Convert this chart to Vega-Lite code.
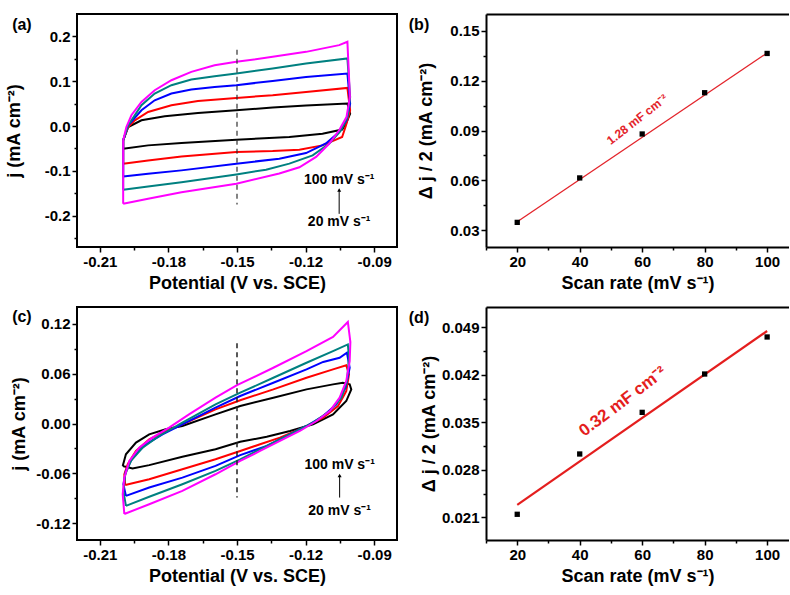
{
"$schema": "https://vega.github.io/schema/vega-lite/v6.json",
"background": "white",
"padding": {"left": 4, "top": 13, "right": 0, "bottom": 2},
"bounds": "flush",
"columns": 2,
"spacing": {"row": 60, "column": 89},
"datasets": {
"cva": [
{"s":"20","i":0,"x":-0.1998,"y":-0.0506},{"s":"20","i":1,"x":-0.1998,"y":-0.032},{"s":"20","i":2,"x":-0.1976,"y":-0.0022},{"s":"20","i":3,"x":-0.1918,"y":0.0127},{"s":"20","i":4,"x":-0.1816,"y":0.0217},{"s":"20","i":5,"x":-0.1671,"y":0.0291},{"s":"20","i":6,"x":-0.1503,"y":0.0351},{"s":"20","i":7,"x":-0.1344,"y":0.0412},{"s":"20","i":8,"x":-0.1198,"y":0.0456},{"s":"20","i":9,"x":-0.1017,"y":0.0501},{"s":"20","i":10,"x":-0.1005,"y":0.0277},{"s":"20","i":11,"x":-0.1023,"y":0.0054},{"s":"20","i":12,"x":-0.104,"y":-0.008},{"s":"20","i":13,"x":-0.1126,"y":-0.017},{"s":"20","i":14,"x":-0.1271,"y":-0.0246},{"s":"20","i":15,"x":-0.1503,"y":-0.0305},{"s":"20","i":16,"x":-0.1743,"y":-0.038},{"s":"20","i":17,"x":-0.1889,"y":-0.0432},{"s":"20","i":18,"x":-0.1998,"y":-0.0506},
{"s":"40","i":0,"x":-0.1998,"y":-0.084},{"s":"40","i":1,"x":-0.1998,"y":-0.032},{"s":"40","i":2,"x":-0.1976,"y":-0.0022},{"s":"40","i":3,"x":-0.1947,"y":0.0127},{"s":"40","i":4,"x":-0.1889,"y":0.0313},{"s":"40","i":5,"x":-0.1787,"y":0.0463},{"s":"40","i":6,"x":-0.1671,"y":0.056},{"s":"40","i":7,"x":-0.1503,"y":0.0627},{"s":"40","i":8,"x":-0.1344,"y":0.0687},{"s":"40","i":9,"x":-0.1198,"y":0.0761},{"s":"40","i":10,"x":-0.1017,"y":0.085},{"s":"40","i":11,"x":-0.1005,"y":0.0351},{"s":"40","i":12,"x":-0.1023,"y":0.0016},{"s":"40","i":13,"x":-0.104,"y":-0.0246},{"s":"40","i":14,"x":-0.1126,"y":-0.0432},{"s":"40","i":15,"x":-0.1227,"y":-0.0528},{"s":"40","i":16,"x":-0.1344,"y":-0.0559},{"s":"40","i":17,"x":-0.1503,"y":-0.0581},{"s":"40","i":18,"x":-0.1743,"y":-0.0678},{"s":"40","i":19,"x":-0.1889,"y":-0.0767},{"s":"40","i":20,"x":-0.1998,"y":-0.084},
{"s":"60","i":0,"x":-0.1998,"y":-0.1125},{"s":"60","i":1,"x":-0.1998,"y":-0.032},{"s":"60","i":2,"x":-0.1976,"y":0.0016},{"s":"60","i":3,"x":-0.1918,"y":0.0351},{"s":"60","i":4,"x":-0.186,"y":0.0575},{"s":"60","i":5,"x":-0.1787,"y":0.0725},{"s":"60","i":6,"x":-0.17,"y":0.0814},{"s":"60","i":7,"x":-0.1598,"y":0.0873},{"s":"60","i":8,"x":-0.1503,"y":0.0911},{"s":"60","i":9,"x":-0.1344,"y":0.1007},{"s":"60","i":10,"x":-0.1198,"y":0.1096},{"s":"60","i":11,"x":-0.1017,"y":0.1172},{"s":"60","i":12,"x":-0.1005,"y":0.05},{"s":"60","i":13,"x":-0.1021,"y":0.0128},{"s":"60","i":14,"x":-0.1053,"y":-0.0134},{"s":"60","i":15,"x":-0.1111,"y":-0.039},{"s":"60","i":16,"x":-0.1198,"y":-0.0604},{"s":"60","i":17,"x":-0.1315,"y":-0.073},{"s":"60","i":18,"x":-0.1503,"y":-0.084},{"s":"60","i":19,"x":-0.1743,"y":-0.099},{"s":"60","i":20,"x":-0.1889,"y":-0.1065},{"s":"60","i":21,"x":-0.1998,"y":-0.1125},
{"s":"80","i":0,"x":-0.1998,"y":-0.1423},{"s":"80","i":1,"x":-0.1998,"y":-0.032},{"s":"80","i":2,"x":-0.1976,"y":0.0016},{"s":"80","i":3,"x":-0.1918,"y":0.0463},{"s":"80","i":4,"x":-0.186,"y":0.0725},{"s":"80","i":5,"x":-0.1787,"y":0.0911},{"s":"80","i":6,"x":-0.17,"y":0.1038},{"s":"80","i":7,"x":-0.1598,"y":0.1112},{"s":"80","i":8,"x":-0.1503,"y":0.1172},{"s":"80","i":9,"x":-0.1344,"y":0.1284},{"s":"80","i":10,"x":-0.1198,"y":0.1396},{"s":"80","i":11,"x":-0.1017,"y":0.1508},{"s":"80","i":12,"x":-0.1005,"y":0.065},{"s":"80","i":13,"x":-0.1017,"y":0.02},{"s":"80","i":14,"x":-0.1045,"y":-0.0096},{"s":"80","i":15,"x":-0.1096,"y":-0.039},{"s":"80","i":16,"x":-0.1169,"y":-0.0655},{"s":"80","i":17,"x":-0.1271,"y":-0.084},{"s":"80","i":18,"x":-0.1373,"y":-0.0975},{"s":"80","i":19,"x":-0.1503,"y":-0.108},{"s":"80","i":20,"x":-0.1743,"y":-0.1253},{"s":"80","i":21,"x":-0.1889,"y":-0.135},{"s":"80","i":22,"x":-0.1998,"y":-0.1423},
{"s":"100","i":0,"x":-0.1998,"y":-0.1736},{"s":"100","i":1,"x":-0.1998,"y":-0.032},{"s":"100","i":2,"x":-0.1984,"y":-0.0022},{"s":"100","i":3,"x":-0.1962,"y":0.024},{"s":"100","i":4,"x":-0.1918,"y":0.0537},{"s":"100","i":5,"x":-0.186,"y":0.0799},{"s":"100","i":6,"x":-0.1787,"y":0.1022},{"s":"100","i":7,"x":-0.17,"y":0.1208},{"s":"100","i":8,"x":-0.1598,"y":0.1358},{"s":"100","i":9,"x":-0.1503,"y":0.1432},{"s":"100","i":10,"x":-0.1344,"y":0.1544},{"s":"100","i":11,"x":-0.1198,"y":0.1655},{"s":"100","i":12,"x":-0.1053,"y":0.1805},{"s":"100","i":13,"x":-0.1017,"y":0.1879},{"s":"100","i":14,"x":-0.1006,"y":0.065},{"s":"100","i":15,"x":-0.1021,"y":0.02},{"s":"100","i":16,"x":-0.1053,"y":-0.0096},{"s":"100","i":17,"x":-0.1096,"y":-0.039},{"s":"100","i":18,"x":-0.1154,"y":-0.069},{"s":"100","i":19,"x":-0.1227,"y":-0.092},{"s":"100","i":20,"x":-0.1315,"y":-0.106},{"s":"100","i":21,"x":-0.1503,"y":-0.1289},{"s":"100","i":22,"x":-0.1743,"y":-0.1477},{"s":"100","i":23,"x":-0.1889,"y":-0.1624},{"s":"100","i":24,"x":-0.1998,"y":-0.1736}
],
"cvc": [
{"s":"20","i":0,"x":-0.2,"y":-0.051},{"s":"20","i":1,"x":-0.1986,"y":-0.037},{"s":"20","i":2,"x":-0.1942,"y":-0.023},{"s":"20","i":3,"x":-0.1884,"y":-0.013},{"s":"20","i":4,"x":-0.1812,"y":-0.007},{"s":"20","i":5,"x":-0.1739,"y":-0.003},{"s":"20","i":6,"x":-0.1594,"y":0.011},{"s":"20","i":7,"x":-0.1486,"y":0.021},{"s":"20","i":8,"x":-0.1341,"y":0.031},{"s":"20","i":9,"x":-0.1196,"y":0.041},{"s":"20","i":10,"x":-0.108,"y":0.047},{"s":"20","i":11,"x":-0.1037,"y":0.049},{"s":"20","i":12,"x":-0.1007,"y":0.047},{"s":"20","i":13,"x":-0.1,"y":0.041},{"s":"20","i":14,"x":-0.1022,"y":0.027},{"s":"20","i":15,"x":-0.108,"y":0.011},{"s":"20","i":16,"x":-0.1167,"y":-0.001},{"s":"20","i":17,"x":-0.1268,"y":-0.009},{"s":"20","i":18,"x":-0.137,"y":-0.016},{"s":"20","i":19,"x":-0.1486,"y":-0.022},{"s":"20","i":20,"x":-0.1594,"y":-0.031},{"s":"20","i":21,"x":-0.1739,"y":-0.04},{"s":"20","i":22,"x":-0.1884,"y":-0.05},{"s":"20","i":23,"x":-0.1957,"y":-0.054},{"s":"20","i":24,"x":-0.2,"y":-0.051},
{"s":"40","i":0,"x":-0.1989,"y":-0.074},{"s":"40","i":1,"x":-0.1993,"y":-0.061},{"s":"40","i":2,"x":-0.1978,"y":-0.049},{"s":"40","i":3,"x":-0.1942,"y":-0.033},{"s":"40","i":4,"x":-0.1884,"y":-0.019},{"s":"40","i":5,"x":-0.1812,"y":-0.009},{"s":"40","i":6,"x":-0.1739,"y":-0.001},{"s":"40","i":7,"x":-0.1594,"y":0.017},{"s":"40","i":8,"x":-0.1486,"y":0.028},{"s":"40","i":9,"x":-0.1341,"y":0.041},{"s":"40","i":10,"x":-0.1196,"y":0.055},{"s":"40","i":11,"x":-0.108,"y":0.065},{"s":"40","i":12,"x":-0.1022,"y":0.07},{"s":"40","i":13,"x":-0.101,"y":0.059},{"s":"40","i":14,"x":-0.1022,"y":0.039},{"s":"40","i":15,"x":-0.1058,"y":0.021},{"s":"40","i":16,"x":-0.1123,"y":0.007},{"s":"40","i":17,"x":-0.121,"y":-0.005},{"s":"40","i":18,"x":-0.1312,"y":-0.017},{"s":"40","i":19,"x":-0.1399,"y":-0.025},{"s":"40","i":20,"x":-0.1486,"y":-0.033},{"s":"40","i":21,"x":-0.1594,"y":-0.043},{"s":"40","i":22,"x":-0.1739,"y":-0.055},{"s":"40","i":23,"x":-0.1884,"y":-0.067},{"s":"40","i":24,"x":-0.1989,"y":-0.074},
{"s":"60","i":0,"x":-0.1986,"y":-0.087},{"s":"60","i":1,"x":-0.1997,"y":-0.073},{"s":"60","i":2,"x":-0.1986,"y":-0.057},{"s":"60","i":3,"x":-0.1957,"y":-0.041},{"s":"60","i":4,"x":-0.1899,"y":-0.025},{"s":"60","i":5,"x":-0.1826,"y":-0.013},{"s":"60","i":6,"x":-0.1739,"y":-0.001},{"s":"60","i":7,"x":-0.1594,"y":0.019},{"s":"60","i":8,"x":-0.1486,"y":0.033},{"s":"60","i":9,"x":-0.1341,"y":0.049},{"s":"60","i":10,"x":-0.1196,"y":0.065},{"s":"60","i":11,"x":-0.1123,"y":0.074},{"s":"60","i":12,"x":-0.1051,"y":0.079},{"s":"60","i":13,"x":-0.1019,"y":0.085},{"s":"60","i":14,"x":-0.1007,"y":0.067},{"s":"60","i":15,"x":-0.1025,"y":0.043},{"s":"60","i":16,"x":-0.1065,"y":0.023},{"s":"60","i":17,"x":-0.1123,"y":0.009},{"s":"60","i":18,"x":-0.1196,"y":-0.003},{"s":"60","i":19,"x":-0.1283,"y":-0.015},{"s":"60","i":20,"x":-0.137,"y":-0.027},{"s":"60","i":21,"x":-0.1486,"y":-0.038},{"s":"60","i":22,"x":-0.1594,"y":-0.051},{"s":"60","i":23,"x":-0.1739,"y":-0.065},{"s":"60","i":24,"x":-0.1884,"y":-0.077},{"s":"60","i":25,"x":-0.1986,"y":-0.087},
{"s":"80","i":0,"x":-0.1986,"y":-0.099},{"s":"80","i":1,"x":-0.1997,"y":-0.081},{"s":"80","i":2,"x":-0.1989,"y":-0.061},{"s":"80","i":3,"x":-0.1964,"y":-0.045},{"s":"80","i":4,"x":-0.1913,"y":-0.029},{"s":"80","i":5,"x":-0.1841,"y":-0.015},{"s":"80","i":6,"x":-0.1739,"y":0.001},{"s":"80","i":7,"x":-0.1594,"y":0.023},{"s":"80","i":8,"x":-0.1486,"y":0.037},{"s":"80","i":9,"x":-0.1341,"y":0.055},{"s":"80","i":10,"x":-0.1196,"y":0.073},{"s":"80","i":11,"x":-0.108,"y":0.087},{"s":"80","i":12,"x":-0.1015,"y":0.095},{"s":"80","i":13,"x":-0.101,"y":0.079},{"s":"80","i":14,"x":-0.1019,"y":0.051},{"s":"80","i":15,"x":-0.1043,"y":0.031},{"s":"80","i":16,"x":-0.1094,"y":0.015},{"s":"80","i":17,"x":-0.1167,"y":0.001},{"s":"80","i":18,"x":-0.1254,"y":-0.011},{"s":"80","i":19,"x":-0.1341,"y":-0.023},{"s":"80","i":20,"x":-0.1428,"y":-0.035},{"s":"80","i":21,"x":-0.1486,"y":-0.043},{"s":"80","i":22,"x":-0.1594,"y":-0.057},{"s":"80","i":23,"x":-0.1739,"y":-0.073},{"s":"80","i":24,"x":-0.1884,"y":-0.088},{"s":"80","i":25,"x":-0.1986,"y":-0.099},
{"s":"100","i":0,"x":-0.1993,"y":-0.1088},{"s":"100","i":1,"x":-0.2,"y":-0.085},{"s":"100","i":2,"x":-0.1993,"y":-0.065},{"s":"100","i":3,"x":-0.1971,"y":-0.045},{"s":"100","i":4,"x":-0.1928,"y":-0.029},{"s":"100","i":5,"x":-0.187,"y":-0.017},{"s":"100","i":6,"x":-0.1797,"y":-0.005},{"s":"100","i":7,"x":-0.171,"y":0.011},{"s":"100","i":8,"x":-0.1594,"y":0.031},{"s":"100","i":9,"x":-0.15,"y":0.046},{"s":"100","i":10,"x":-0.1341,"y":0.067},{"s":"100","i":11,"x":-0.1196,"y":0.087},{"s":"100","i":12,"x":-0.108,"y":0.104},{"s":"100","i":13,"x":-0.1015,"y":0.122},{"s":"100","i":14,"x":-0.1004,"y":0.098},{"s":"100","i":15,"x":-0.1007,"y":0.075},{"s":"100","i":16,"x":-0.1022,"y":0.051},{"s":"100","i":17,"x":-0.1051,"y":0.031},{"s":"100","i":18,"x":-0.1094,"y":0.015},{"s":"100","i":19,"x":-0.1152,"y":0.003},{"s":"100","i":20,"x":-0.1225,"y":-0.009},{"s":"100","i":21,"x":-0.1312,"y":-0.021},{"s":"100","i":22,"x":-0.1399,"y":-0.033},{"s":"100","i":23,"x":-0.1486,"y":-0.045},{"s":"100","i":24,"x":-0.1594,"y":-0.061},{"s":"100","i":25,"x":-0.1739,"y":-0.081},{"s":"100","i":26,"x":-0.1884,"y":-0.097},{"s":"100","i":27,"x":-0.1993,"y":-0.1088}
],
"bpts": [{"r":20,"v":0.0348},{"r":40,"v":0.0615},{"r":60,"v":0.0879},{"r":80,"v":0.1127},{"r":100,"v":0.1363}],
"bfit": [{"r":20,"f":0.0352},{"r":100,"f":0.1366}],
"dpts": [{"r":20,"v":0.02144},{"r":40,"v":0.03033},{"r":60,"v":0.03647},{"r":80,"v":0.04212},{"r":100,"v":0.04758}],
"dfit": [{"r":20,"f":0.02282},{"r":100,"f":0.04846}]
},
"concat": [
{
"width": 320, "height": 233,
"layer": [
{"data": {"name": "cva"}, "mark": {"type": "line", "strokeWidth": 2},
 "encoding": {
  "x": {"field": "x", "type": "quantitative", "scale": {"domain": [-0.22, -0.08], "nice": false, "zero": false}, "axis": {"values": [-0.21, -0.18, -0.15, -0.12, -0.09], "format": ".2f", "title": "Potential (V vs. SCE)", "titlePadding": 5}},
  "y": {"field": "y", "type": "quantitative", "scale": {"domain": [-0.27, 0.25], "nice": false, "zero": false}, "axis": {"values": [-0.2, -0.1, 0, 0.1, 0.2], "format": ".1f", "title": "j (mA  cm⁻²)", "titlePadding": 21}},
  "color": {"field": "s", "type": "nominal", "scale": {"domain": ["20", "40", "60", "80", "100"], "range": ["#000000", "#ff0000", "#0000ff", "#008080", "#ff00ff"]}, "legend": null},
  "order": {"field": "i", "type": "quantitative"}
 }},
{"data": {"values": [{"x": -0.15, "y": 0.17, "y2": -0.175}]}, "mark": {"type": "rule", "strokeDash": [5, 4], "strokeWidth": 1.2, "color": "#333333"},
 "encoding": {
  "x": {"field": "x", "type": "quantitative", "axis": {"orient": "bottom", "values": [-0.195, -0.165, -0.135, -0.105], "labels": false, "title": null, "tickSize": 3}},
  "y": {"field": "y", "type": "quantitative", "axis": {"orient": "left", "values": [-0.25, -0.15, -0.05, 0.05, 0.15], "labels": false, "title": null, "tickSize": 3}},
  "y2": {"field": "y2"}
 }},
{"data": {"values": [{"x": -0.1053, "y": -0.121, "t": "100 mV s⁻¹"}, {"x": -0.1053, "y": -0.214, "t": "20 mV s⁻¹"}]}, "mark": {"type": "text", "fontSize": 14, "fontWeight": "bold", "color": "black"},
 "encoding": {"x": {"field": "x", "type": "quantitative", "axis": null}, "y": {"field": "y", "type": "quantitative", "axis": null}, "text": {"field": "t"}}},
{"data": {"values": [{"x": -0.2441, "y": 0.2255, "t": "(a)"}]}, "mark": {"type": "text", "fontSize": 16, "fontWeight": "bold", "color": "black"},
 "encoding": {"x": {"field": "x", "type": "quantitative", "axis": null}, "y": {"field": "y", "type": "quantitative", "axis": null}, "text": {"field": "t"}}},
{"data": {"values": [{"x": -0.1053, "y": -0.196, "y2": -0.142}]}, "mark": {"type": "rule", "strokeWidth": 1, "color": "black"},
 "encoding": {"x": {"field": "x", "type": "quantitative", "axis": null}, "y": {"field": "y", "type": "quantitative", "axis": null}, "y2": {"field": "y2"}}},
{"data": {"values": [{"x": -0.1053, "y": -0.143}]}, "mark": {"type": "point", "shape": "triangle-up", "filled": true, "size": 16, "color": "black", "opacity": 1},
 "encoding": {"x": {"field": "x", "type": "quantitative", "axis": null}, "y": {"field": "y", "type": "quantitative", "axis": null}}}
],
"resolve": {"axis": {"x": "independent", "y": "independent"}}
},
{
"width": 303, "height": 233,
"view": {"stroke": null},
"layer": [
{"data": {"name": "bfit"}, "mark": {"type": "line", "color": "#e3242b", "strokeWidth": 1.3},
 "encoding": {
  "x": {"field": "r", "type": "quantitative", "scale": {"domain": [10, 107], "nice": false, "zero": false}, "axis": {"values": [20, 40, 60, 80, 100], "title": "Scan rate  (mV s⁻¹)", "titlePadding": 5, "domain": true, "domainWidth": 2, "domainColor": "black"}},
  "y": {"field": "f", "type": "quantitative", "scale": {"domain": [0.02, 0.16], "nice": false, "zero": false}, "axis": {"values": [0.03, 0.06, 0.09, 0.12, 0.15], "format": ".2f", "title": "Δ j / 2 (mA  cm⁻²)", "titlePadding": 14, "domain": true, "domainWidth": 2, "domainColor": "black"}}
 }},
{"data": {"name": "bpts"}, "mark": {"type": "point", "shape": "square", "filled": true, "size": 28, "color": "black", "opacity": 1},
 "encoding": {
  "x": {"field": "r", "type": "quantitative", "axis": {"orient": "bottom", "values": [10, 30, 50, 70, 90], "labels": false, "title": null, "tickSize": 3}},
  "y": {"field": "v", "type": "quantitative", "axis": {"orient": "left", "values": [0.045, 0.075, 0.105, 0.135], "labels": false, "title": null, "tickSize": 3}}
 }},
{"data": {"values": [{"r": 58.4, "v": 0.0966, "t": "1.28 mF cm⁻²"}]}, "mark": {"type": "text", "angle": 322, "fontSize": 12, "fontWeight": "bold", "color": "#e3242b"},
 "encoding": {"x": {"field": "r", "type": "quantitative", "axis": {"orient": "top", "labels": false, "ticks": false, "title": null, "domain": true, "domainWidth": 2, "domainColor": "black"}}, "y": {"field": "v", "type": "quantitative", "axis": null}, "text": {"field": "t"}}},
{"data": {"values": [{"r": -11.45, "v": 0.1534, "t": "(b)"}]}, "mark": {"type": "text", "fontSize": 16, "fontWeight": "bold", "color": "black"},
 "encoding": {"x": {"field": "r", "type": "quantitative", "axis": null}, "y": {"field": "v", "type": "quantitative", "axis": null}, "text": {"field": "t"}}}
],
"resolve": {"axis": {"x": "independent", "y": "independent"}}
},
{
"width": 320, "height": 233,
"layer": [
{"data": {"name": "cvc"}, "mark": {"type": "line", "strokeWidth": 2},
 "encoding": {
  "x": {"field": "x", "type": "quantitative", "scale": {"domain": [-0.22, -0.08], "nice": false, "zero": false}, "axis": {"values": [-0.21, -0.18, -0.15, -0.12, -0.09], "format": ".2f", "title": "Potential (V vs. SCE)", "titlePadding": 5}},
  "y": {"field": "y", "type": "quantitative", "scale": {"domain": [-0.14, 0.14], "nice": false, "zero": false}, "axis": {"values": [-0.12, -0.06, 0, 0.06, 0.12], "format": ".2f", "title": "j (mA  cm⁻²)", "titlePadding": 7}},
  "color": {"field": "s", "type": "nominal", "scale": {"domain": ["20", "40", "60", "80", "100"], "range": ["#000000", "#ff0000", "#0000ff", "#008080", "#ff00ff"]}, "legend": null},
  "order": {"field": "i", "type": "quantitative"}
 }},
{"data": {"values": [{"x": -0.15, "y": 0.0965, "y2": -0.089}]}, "mark": {"type": "rule", "strokeDash": [5, 4], "strokeWidth": 1.5, "color": "#222222"},
 "encoding": {
  "x": {"field": "x", "type": "quantitative", "axis": {"orient": "bottom", "values": [-0.195, -0.165, -0.135, -0.105], "labels": false, "title": null, "tickSize": 3}},
  "y": {"field": "y", "type": "quantitative", "axis": {"orient": "left", "values": [-0.09, -0.03, 0.03, 0.09], "labels": false, "title": null, "tickSize": 3}},
  "y2": {"field": "y2"}
 }},
{"data": {"values": [{"x": -0.1051, "y": -0.05, "t": "100 mV s⁻¹"}, {"x": -0.1051, "y": -0.1057, "t": "20 mV s⁻¹"}]}, "mark": {"type": "text", "fontSize": 14, "fontWeight": "bold", "color": "black"},
 "encoding": {"x": {"field": "x", "type": "quantitative", "axis": null}, "y": {"field": "y", "type": "quantitative", "axis": null}, "text": {"field": "t"}}},
{"data": {"values": [{"x": -0.2441, "y": 0.1274, "t": "(c)"}]}, "mark": {"type": "text", "fontSize": 16, "fontWeight": "bold", "color": "black"},
 "encoding": {"x": {"field": "x", "type": "quantitative", "axis": null}, "y": {"field": "y", "type": "quantitative", "axis": null}, "text": {"field": "t"}}},
{"data": {"values": [{"x": -0.1051, "y": -0.089, "y2": -0.062}]}, "mark": {"type": "rule", "strokeWidth": 1, "color": "black"},
 "encoding": {"x": {"field": "x", "type": "quantitative", "axis": null}, "y": {"field": "y", "type": "quantitative", "axis": null}, "y2": {"field": "y2"}}},
{"data": {"values": [{"x": -0.1051, "y": -0.0625}]}, "mark": {"type": "point", "shape": "triangle-up", "filled": true, "size": 16, "color": "black", "opacity": 1},
 "encoding": {"x": {"field": "x", "type": "quantitative", "axis": null}, "y": {"field": "y", "type": "quantitative", "axis": null}}}
],
"resolve": {"axis": {"x": "independent", "y": "independent"}}
},
{
"width": 303, "height": 233,
"view": {"stroke": null},
"layer": [
{"data": {"name": "dfit"}, "mark": {"type": "line", "color": "#e41e1e", "strokeWidth": 2.2},
 "encoding": {
  "x": {"field": "r", "type": "quantitative", "scale": {"domain": [10, 107], "nice": false, "zero": false}, "axis": {"values": [20, 40, 60, 80, 100], "title": "Scan rate  (mV s⁻¹)", "titlePadding": 5, "domain": true, "domainWidth": 2, "domainColor": "black"}},
  "y": {"field": "f", "type": "quantitative", "scale": {"domain": [0.01765, 0.052], "nice": false, "zero": false}, "axis": {"values": [0.021, 0.028, 0.035, 0.042, 0.049], "format": ".3f", "title": "Δ j / 2 (mA  cm⁻²)", "titlePadding": 3, "domain": true, "domainWidth": 2, "domainColor": "black"}}
 }},
{"data": {"name": "dpts"}, "mark": {"type": "point", "shape": "square", "filled": true, "size": 28, "color": "black", "opacity": 1},
 "encoding": {
  "x": {"field": "r", "type": "quantitative", "axis": {"orient": "bottom", "values": [10, 30, 50, 70, 90], "labels": false, "title": null, "tickSize": 3}},
  "y": {"field": "v", "type": "quantitative", "axis": {"orient": "left", "values": [0.0245, 0.0315, 0.0385, 0.0455], "labels": false, "title": null, "tickSize": 3}}
 }},
{"data": {"values": [{"r": 53.8, "v": 0.03805, "t": "0.32 mF cm⁻²"}]}, "mark": {"type": "text", "angle": 323, "fontSize": 17, "fontWeight": "bold", "color": "#e41e1e"},
 "encoding": {"x": {"field": "r", "type": "quantitative", "axis": {"orient": "top", "labels": false, "ticks": false, "title": null, "domain": true, "domainWidth": 2, "domainColor": "black"}}, "y": {"field": "v", "type": "quantitative", "axis": null}, "text": {"field": "t"}}},
{"data": {"values": [{"r": -11.45, "v": 0.05045, "t": "(d)"}]}, "mark": {"type": "text", "fontSize": 16, "fontWeight": "bold", "color": "black"},
 "encoding": {"x": {"field": "r", "type": "quantitative", "axis": null}, "y": {"field": "v", "type": "quantitative", "axis": null}, "text": {"field": "t"}}}
],
"resolve": {"axis": {"x": "independent", "y": "independent"}}
}
],
"config": {
 "locale": {"number": {"decimal": ".", "thousands": ",", "grouping": [3], "currency": ["$", ""], "minus": "-"}},
 "font": "Liberation Sans",
 "view": {"stroke": "black", "strokeWidth": 2},
 "axis": {"domain": false, "grid": false, "ticks": true, "tickColor": "black", "tickWidth": 1.5, "tickSize": 5, "labelFont": "Liberation Sans", "labelFontSize": 15, "labelFontWeight": "bold", "labelColor": "black", "labelPadding": 2, "titleFont": "Liberation Sans", "titleFontSize": 18, "titleFontWeight": "bold", "titleColor": "black"},
 "text": {"font": "Liberation Sans"}
}
}
